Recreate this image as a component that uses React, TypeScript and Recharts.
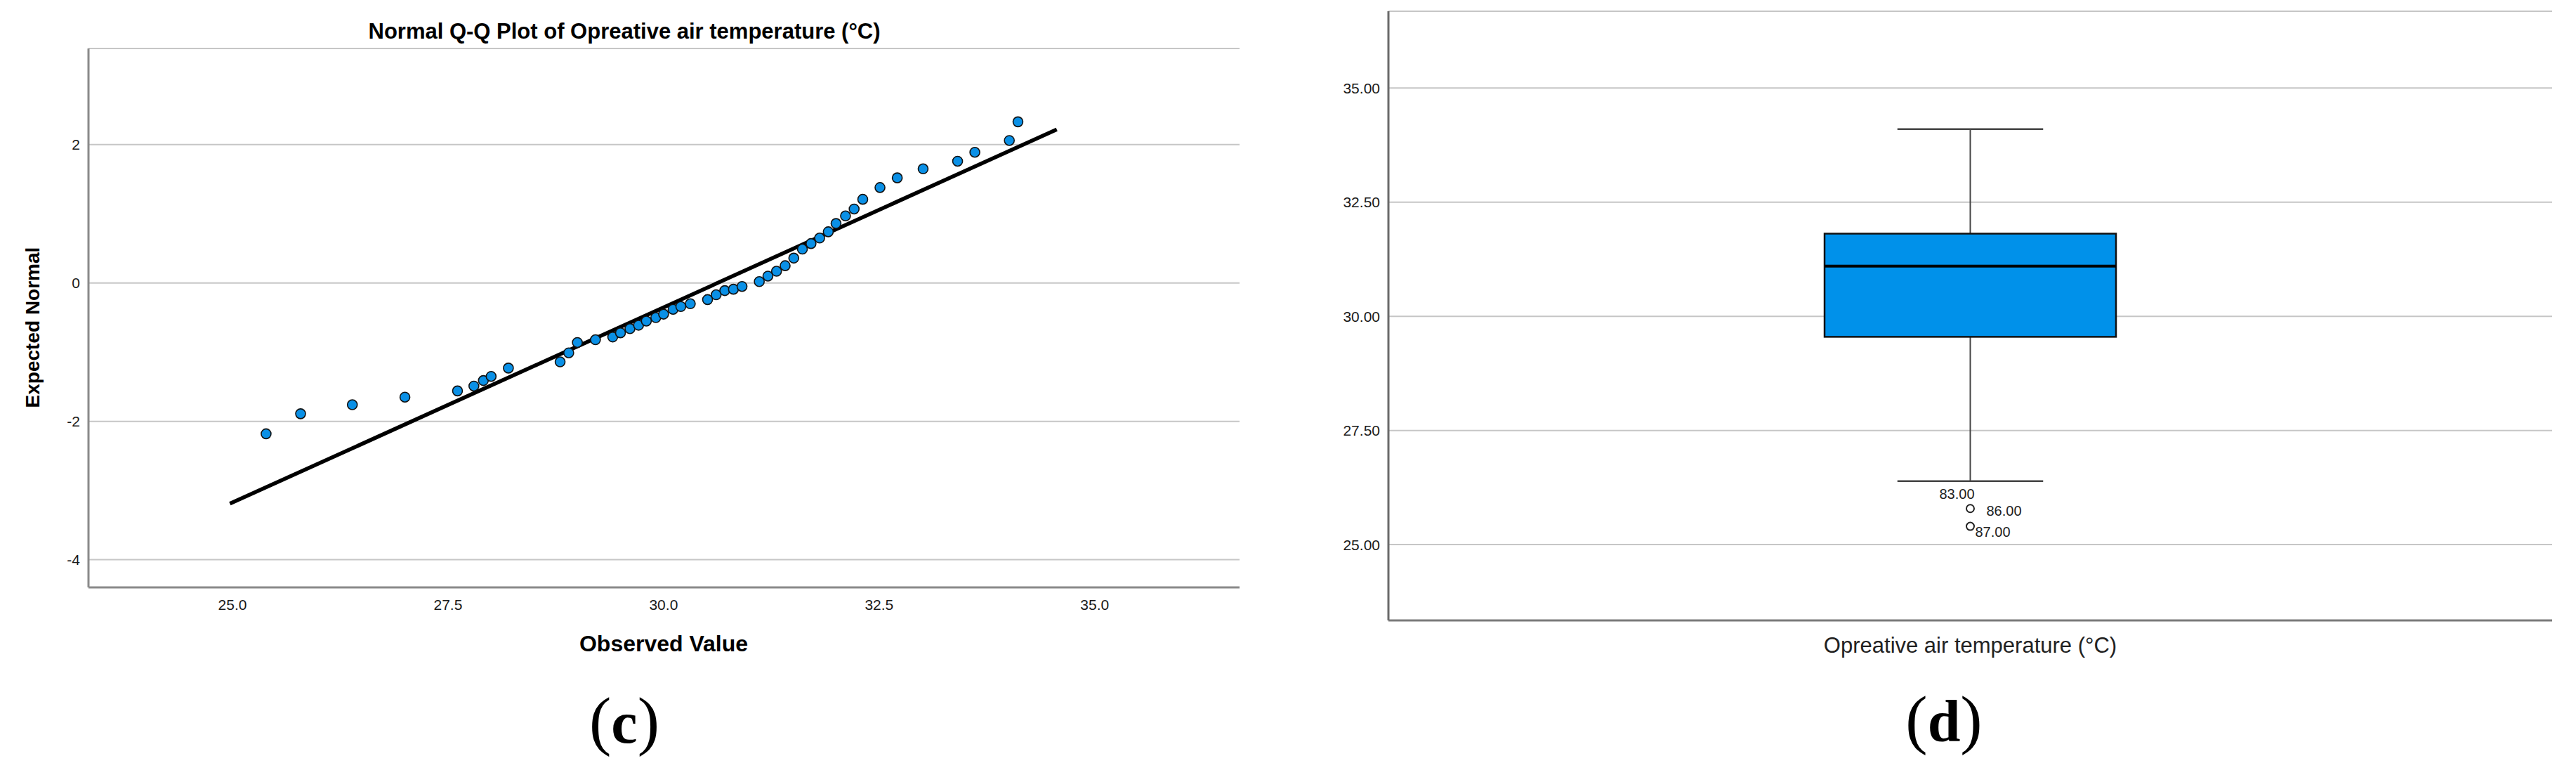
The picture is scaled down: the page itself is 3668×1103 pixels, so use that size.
import React from "react";
import {
  ComposedChart,
  Scatter,
  Bar,
  XAxis,
  YAxis,
  CartesianGrid,
  ReferenceLine,
  ReferenceDot,
} from "recharts";

// (c) Normal Q-Q plot: observed temperature vs expected normal value
const observedValues = [
  25.39, 25.79, 26.39, 27.0, 27.61, 27.8, 27.91, 28.0, 28.2, 28.8, 28.9, 29.0,
  29.21, 29.41, 29.5, 29.61, 29.71, 29.8, 29.91, 30.0, 30.11, 30.2, 30.31, 30.51,
  30.61, 30.71, 30.81, 30.91, 31.11, 31.21, 31.31, 31.41, 31.51, 31.61, 31.71,
  31.81, 31.91, 32.0, 32.11, 32.21, 32.31, 32.51, 32.71, 33.01, 33.41, 33.61,
  34.01, 34.11,
];
const expectedNormals = [
  -2.18, -1.89, -1.76, -1.65, -1.56, -1.49, -1.41, -1.35, -1.23, -1.14, -1.01,
  -0.86, -0.82, -0.78, -0.72, -0.66, -0.61, -0.55, -0.5, -0.45, -0.38, -0.34,
  -0.3, -0.24, -0.17, -0.11, -0.09, -0.05, 0.02, 0.1, 0.17, 0.25, 0.36, 0.49,
  0.57, 0.65, 0.74, 0.86, 0.97, 1.07, 1.21, 1.38, 1.52, 1.65, 1.76, 1.89, 2.06,
  2.33,
];
// reference line ends (x, y)
const normalLine = [
  { x: 24.97, y: -3.19 },
  { x: 34.56, y: 2.22 },
];
const qqXTicks = [25, 27.5, 30, 32.5, 35];
const qqYTicks = [-4, -2, 0, 2];

// (d) box plot
const boxCategory = "Opreative air temperature (°C)";
const boxStats = { min: 26.39, q1: 29.55, median: 31.1, q3: 31.81, max: 34.1 };
const boxYTicks = [25, 27.5, 30, 32.5, 35];
const outlierValues = [26.39, 25.79, 25.4];
const outlierLabels = ["83.00", "86.00", "87.00"];
const outlierMarked = [false, true, true];

const FONT = "'Liberation Sans', Arial, Helvetica, sans-serif";
const SERIF = "'Liberation Serif', 'Times New Roman', serif";

const qqPoints = observedValues.map((x, i) => ({ x, y: expectedNormals[i] }));
const boxData = [
  {
    name: boxCategory,
    range: [boxStats.min, boxStats.max],
    ...boxStats,
  },
];

// label offsets next to each outlier marker
const labelOffset: Record<string, { dx: number; dy: number }> = {
  "83.00": { dx: -44, dy: 18 },
  "86.00": { dx: 23, dy: 3 },
  "87.00": { dx: 7, dy: 8 },
};

const QQDot = (props: any) => (
  <circle
    cx={props.cx}
    cy={props.cy}
    r={7}
    fill="#0a90e6"
    stroke="#111"
    strokeWidth={1.6}
  />
);

const BoxShape = (props: any) => {
  const { x, y, width, height, payload } = props;
  const top = Math.min(y, y + height);
  const bottom = Math.max(y, y + height);
  const { min, max, q1, median, q3 } = payload;
  const pix = (v: number) => bottom - ((v - min) / (max - min)) * (bottom - top);
  const cx = x + width / 2;
  const capHalf = width / 4;
  return (
    <g>
      <line x1={cx} x2={cx} y1={pix(max)} y2={pix(q3)} stroke="#444" strokeWidth={2} />
      <line x1={cx} x2={cx} y1={pix(q1)} y2={pix(min)} stroke="#444" strokeWidth={2} />
      <line x1={cx - capHalf} x2={cx + capHalf} y1={pix(max)} y2={pix(max)} stroke="#444" strokeWidth={2.5} />
      <line x1={cx - capHalf} x2={cx + capHalf} y1={pix(min)} y2={pix(min)} stroke="#444" strokeWidth={2.5} />
      <rect
        x={x}
        y={pix(q3)}
        width={width}
        height={pix(q1) - pix(q3)}
        fill="#0091ea"
        stroke="#111"
        strokeWidth={2.5}
      />
      <line x1={x} x2={x + width} y1={pix(median)} y2={pix(median)} stroke="#000" strokeWidth={4} />
    </g>
  );
};

const OutlierMark = (label: string, marked: boolean) => (props: any) => {
  const off = labelOffset[label];
  return (
    <g>
      {marked && (
        <circle cx={props.cx} cy={props.cy} r={5.5} fill="#fff" stroke="#222" strokeWidth={2} />
      )}
      <text
        x={props.cx + off.dx}
        y={props.cy + off.dy}
        dy="0.35em"
        fontSize={20}
        fontFamily={FONT}
        fill="#222"
      >
        {label}
      </text>
    </g>
  );
};

const PanelTag = ({ x, y, letter }: { x: number; y: number; letter: string }) => (
  <text x={x} y={y} textAnchor="middle" fontFamily={SERIF} fill="#000">
    <tspan fontSize={94}>(</tspan>
    <tspan fontSize={84} fontWeight="bold">{letter}</tspan>
    <tspan fontSize={94}>)</tspan>
  </text>
);

const App: React.FC = () => {
  return (
    <div
      style={{
        position: "absolute",
        left: 0,
        top: 0,
        width: 3668,
        height: 1103,
        background: "#fff",
        overflow: "hidden",
      }}
    >
      <div style={{ position: "absolute", left: 0, top: 0 }}>
        <ComposedChart
          width={1800}
          height={1103}
          margin={{ top: 69, right: 35, left: 76, bottom: 227 }}
        >
          <CartesianGrid vertical={false} stroke="#c6c6c6" strokeWidth={2} />
          <XAxis
            type="number"
            dataKey="x"
            domain={[23.33, 36.68]}
            allowDataOverflow
            ticks={qqXTicks}
            tickFormatter={(v: number) => v.toFixed(1)}
            tickLine={false}
            tickSize={0}
            tickMargin={17}
            height={40}
            axisLine={{ stroke: "#8a8a8a", strokeWidth: 3 }}
            tick={{ fontSize: 21, fill: "#1a1a1a", fontFamily: FONT }}
          />
          <YAxis
            type="number"
            dataKey="y"
            domain={[-4.4, 3.39]}
            allowDataOverflow
            ticks={qqYTicks}
            tickLine={false}
            tickSize={0}
            tickMargin={12}
            width={50}
            axisLine={{ stroke: "#8a8a8a", strokeWidth: 3 }}
            tick={{ fontSize: 21, fill: "#1a1a1a", fontFamily: FONT }}
          />
          <ReferenceLine
            segment={normalLine}
            stroke="#000"
            strokeWidth={5.5}
            ifOverflow="visible"
          />
          <Scatter data={qqPoints} dataKey="y" shape={QQDot} isAnimationActive={false} />
        </ComposedChart>
      </div>

      <div style={{ position: "absolute", left: 1900, top: 0 }}>
        <ComposedChart
          width={1768}
          height={1103}
          data={boxData}
          margin={{ top: 16, right: 34, left: 7, bottom: 160 }}
        >
          <CartesianGrid vertical={false} stroke="#c6c6c6" strokeWidth={2} />
          <XAxis
            type="category"
            dataKey="name"
            tickLine={false}
            tickSize={0}
            tickMargin={24}
            height={60}
            axisLine={{ stroke: "#7a7a7a", strokeWidth: 3 }}
            tick={{ fontSize: 31, fill: "#222", fontFamily: FONT }}
          />
          <YAxis
            type="number"
            domain={[23.34, 36.68]}
            allowDataOverflow
            ticks={boxYTicks}
            tickFormatter={(v: number) => v.toFixed(2)}
            tickLine={false}
            tickSize={0}
            tickMargin={12}
            width={70}
            axisLine={{ stroke: "#6a6a6a", strokeWidth: 3 }}
            tick={{ fontSize: 21, fill: "#1a1a1a", fontFamily: FONT }}
          />
          <Bar dataKey="range" barSize={415} shape={BoxShape} isAnimationActive={false} />
          {outlierValues.map((v, i) => (
            <ReferenceDot
              key={outlierLabels[i]}
              x={boxCategory}
              y={v}
              r={5.5}
              ifOverflow="visible"
              shape={OutlierMark(outlierLabels[i], outlierMarked[i])}
            />
          ))}
        </ComposedChart>
      </div>

      <svg
        width={3668}
        height={1103}
        style={{ position: "absolute", left: 0, top: 0, pointerEvents: "none" }}
      >
        <text x={889} y={55} textAnchor="middle" fontSize={31} fontWeight="bold" fontFamily={FONT} fill="#000">
          Normal Q-Q Plot of Opreative air temperature (°C)
        </text>
        <text
          transform="translate(46,466) rotate(-90)"
          textAnchor="middle"
          dy="0.35em"
          fontSize={28}
          fontWeight="bold"
          fontFamily={FONT}
          fill="#000"
        >
          Expected Normal
        </text>
        <text x={945} y={927} textAnchor="middle" fontSize={32} fontWeight="bold" fontFamily={FONT} fill="#000">
          Observed Value
        </text>
        <PanelTag x={889} y={1057} letter="c" />
        <PanelTag x={2768} y={1055} letter="d" />
      </svg>
    </div>
  );
};

export default App;
